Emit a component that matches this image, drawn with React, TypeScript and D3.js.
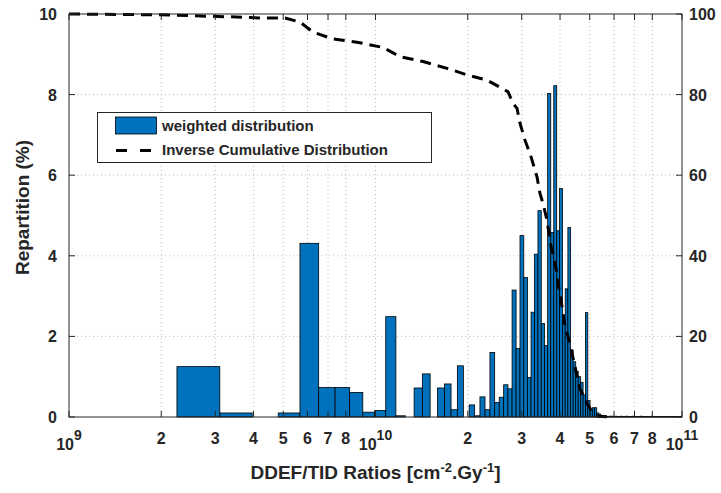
import React from "react";
import * as d3 from "d3";

// Histogram bins (linear bins drawn on a log axis)
const binStart = 2.25e9;
const binWidth = 0.855e9;
const binValues = [
  1.25, 0.10, 0, 0.10, 4.31, 0.73, 0.73, 0.61, 0.12, 0.16,
  2.49, 0.03, 0, 0.72, 1.07, 0, 0.72, 0.82, 0.18, 1.27,
  0, 0.30, 0.03, 0.50, 0.18, 1.60, 0.36, 0.49, 0.80, 0.70,
  3.15, 1.70, 4.50, 3.46, 0.98, 2.60, 4.04, 5.12, 2.32, 1.77,
  8.03, 4.58, 8.22, 4.62, 5.67, 2.38, 3.18, 4.70, 1.66, 1.37,
  1.13, 1.00, 0.86, 0.55, 2.59, 0.41, 0.18, 0.23, 0.23, 0.10,
  0.07, 0.03, 0.02, 0.02, 0.01, 0.02, 0.02, 0.01, 0.02, 0.01,
  0.01, 0.02, 0.01, 0.01, 0.02, 0.01, 0.01, 0.01, 0.02, 0.01,
  0.01, 0.01, 0.01, 0.02, 0.01, 0.01, 0.01, 0.01, 0.01, 0.01,
  0.02, 0.01, 0.01, 0.01, 0.01, 0.01, 0.01, 0.01, 0.01, 0.01,
  0.01, 0.01, 0.01, 0.01, 0.01, 0.01, 0.01, 0.01, 0.01, 0.01,
  0.01, 0.01, 0.01, 0.01,
];

// Inverse cumulative distribution (right axis, %)
const cumX = [
  1e9, 1.98e9, 3.35e9, 4.2e9, 5.07e9, 5.67e9, 6.25e9, 7.27e9, 8.7e9, 1.058e10,
  1.202e10, 1.429e10, 1.712e10, 1.989e10, 2.311e10, 2.706e10, 2.81e10, 2.895e10, 2.961e10, 3.074e10,
  3.216e10, 3.364e10, 3.441e10, 3.519e10, 3.626e10, 3.737e10, 3.794e10, 3.91e10, 3.94e10, 4.06e10,
  4.153e10, 4.248e10, 4.377e10, 4.477e10, 4.545e10, 4.648e10, 4.898e10, 5.124e10, 5.32e10, 5.824e10,
];
const cumY = [
  100, 99.8, 99.3, 99.0, 99.0, 98.0, 95.5, 93.8, 93.0, 91.7,
  89.4, 88.2, 86.5, 84.9, 83.6, 80.7, 77.8, 76.6, 72.9, 68.7,
  64.6, 59.6, 55.5, 53.0, 48.9, 42.3, 40.6, 35.7, 33.2, 27.4,
  22.4, 19.9, 15.8, 12.5, 10.0, 7.0, 3.4, 0.9, 0.2, 0,
];

const xTickValues = [
  1e9, 2e9, 3e9, 4e9, 5e9, 6e9, 7e9, 8e9, 1e10,
  2e10, 3e10, 4e10, 5e10, 6e10, 7e10, 8e10, 1e11,
];
const yLeftTicks = [0, 2, 4, 6, 8, 10];
const yRightTicks = [0, 20, 40, 60, 80, 100];
const legendLabels = ["weighted distribution", "Inverse Cumulative Distribution"];

const FONT = "'Liberation Sans', Arial, Helvetica, sans-serif";
const TXT = "#262626";
const BLUE = "#0072BD";

export default function App() {
  const L = 69, R = 682, T = 14, B = 417;
  const x = d3.scaleLog().domain([1e9, 1e11]).range([L, R]);
  const y = d3.scaleLinear().domain([0, 10]).range([B, T]);
  const yR = d3.scaleLinear().domain([0, 100]).range([B, T]);

  const line = d3
    .line<number>()
    .x((_, i) => x(cumX[i]))
    .y((d) => yR(d));

  const bars = binValues.map((v, k) => {
    const x0 = x(binStart + binWidth * k);
    const x1 = x(binStart + binWidth * (k + 1));
    return { x0, x1, v };
  });

  const isDecade = (t: number) => Math.abs(Math.log10(t) - Math.round(Math.log10(t))) < 1e-9;

  return (
    <svg
      width={721}
      height={493}
      style={{ position: "absolute", left: 0, top: 0, background: "#fff" }}
      fontFamily={FONT}
    >
      <rect x={0} y={0} width={721} height={493} fill="#fff" />
      {/* grid */}
      {xTickValues
        .filter((t) => t > 1e9 && t < 1e11)
        .map((t, i) => (
          <line key={"gx" + i} x1={x(t)} x2={x(t)} y1={T} y2={B} stroke="#a8a8a8" strokeWidth={0.8} strokeDasharray="1 3" />
        ))}
      {yLeftTicks
        .filter((t) => t > 0 && t < 10)
        .map((t, i) => (
          <line key={"gy" + i} x1={L} x2={R} y1={y(t)} y2={y(t)} stroke="#a8a8a8" strokeWidth={0.8} strokeDasharray="1 3" />
        ))}
      {/* bars */}
      {bars
        .filter((b) => b.v > 0)
        .map((b, i) => (
          <rect
            key={"b" + i}
            x={b.x0}
            y={y(b.v)}
            width={b.x1 - b.x0}
            height={y(0) - y(b.v)}
            fill={BLUE}
            stroke="#000"
            strokeWidth={0.8}
          />
        ))}
      {/* inverse cumulative */}
      <path d={line(cumY) || ""} fill="none" stroke="#000" strokeWidth={3} strokeDasharray="11 7" />
      {/* box */}
      <rect x={L} y={T} width={R - L} height={B - T} fill="none" stroke={TXT} strokeWidth={1} />
      {/* ticks */}
      {xTickValues.map((t, i) => (
        <g key={"xt" + i}>
          <line x1={x(t)} x2={x(t)} y1={B} y2={B - 6} stroke={TXT} />
          <line x1={x(t)} x2={x(t)} y1={T} y2={T + 6} stroke={TXT} />
        </g>
      ))}
      {yLeftTicks.map((t, i) => (
        <line key={"yl" + i} x1={L} x2={L + 6} y1={y(t)} y2={y(t)} stroke={TXT} />
      ))}
      {yRightTicks.map((t, i) => (
        <line key={"yr" + i} x1={R} x2={R - 6} y1={yR(t)} y2={yR(t)} stroke={TXT} />
      ))}
      {/* tick labels */}
      {xTickValues.map((t, i) =>
        isDecade(t) ? (
          <text key={"xl" + i} x={x(t)} y={450} textAnchor="middle" fontSize={16} fontWeight="bold" fill={TXT}>
            10
            <tspan dy={-10} fontSize={14}>{Math.round(Math.log10(t))}</tspan>
          </text>
        ) : (
          <text key={"xl" + i} x={x(t)} y={444} textAnchor="middle" fontSize={16} fontWeight="bold" fill={TXT}>
            {Math.round(t / Math.pow(10, Math.floor(Math.log10(t))))}
          </text>
        )
      )}
      {yLeftTicks.map((t, i) => (
        <text key={"yll" + i} x={57} y={y(t) + 6} textAnchor="end" fontSize={16} fontWeight="bold" fill={TXT}>
          {t}
        </text>
      ))}
      {yRightTicks.map((t, i) => (
        <text key={"yrl" + i} x={689} y={yR(t) + 6} textAnchor="start" fontSize={16} fontWeight="bold" fill={TXT}>
          {t}
        </text>
      ))}
      {/* axis labels */}
      <text x={(L + R) / 2} y={479} textAnchor="middle" fontSize={19} fontWeight="bold" fill={TXT}>
        DDEF/TID Ratios [cm
        <tspan dy={-7} fontSize={13}>-2</tspan>
        <tspan dy={7}>.Gy</tspan>
        <tspan dy={-7} fontSize={13}>-1</tspan>
        <tspan dy={7}>]</tspan>
      </text>
      <text
        transform={`translate(29, ${(T + B) / 2 - 8}) rotate(-90)`}
        textAnchor="middle"
        fontSize={19}
        fontWeight="bold"
        fill={TXT}
      >
        Repartition (%)
      </text>
      {/* legend */}
      <rect x={97.5} y={112.5} width={334} height={50} fill="#fff" stroke={TXT} strokeWidth={1} />
      <rect x={115.5} y={117} width={41} height={17} fill={BLUE} stroke="#000" strokeWidth={0.8} />
      <text x={162} y={131} fontSize={15} fontWeight="bold" fill={TXT}>
        {legendLabels[0]}
      </text>
      <line x1={116} x2={151} y1={150.5} y2={150.5} stroke="#000" strokeWidth={3} strokeDasharray="11 13" />
      <text x={162} y={155} fontSize={15} fontWeight="bold" fill={TXT}>
        {legendLabels[1]}
      </text>
    </svg>
  );
}
